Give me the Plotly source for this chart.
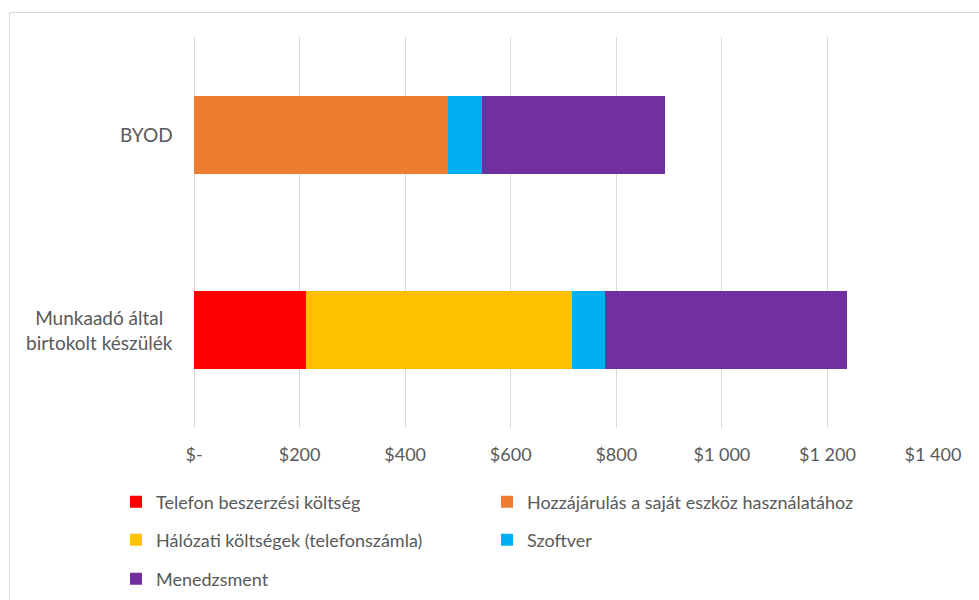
import plotly.graph_objects as go

categories = ["BYOD", "Munkaadó által birtokolt készülék"]
category_labels = ["BYOD", "Munkaadó által<br>birtokolt készülék"]
series_names = [
    "Telefon beszerzési költség",
    "Hozzájárulás a saját eszköz használatához",
    "Hálózati költségek (telefonszámla)",
    "Szoftver",
    "Menedzsment",
]
telefon = [None, 212]
hozzajarulas = [482, None]
halozati = [None, 505]
szoftver = [64, 61]
menedzsment = [347, 459]
series_values = [telefon, hozzajarulas, halozati, szoftver, menedzsment]
colors = ["#FF0000", "#ED7D31", "#FFC000", "#00B0F0", "#7030A0"]

tick_vals = [0, 200, 400, 600, 800, 1000, 1200, 1400]
tick_text = ["$-", "$200", "$400", "$600", "$800", "$1 000", "$1 200", "$1 400"]

FONT = "Lato"
GRAY = "#595959"

W, H = 979, 600
L, R, T, B = 194, 46, 37, 172
pw = W - L - R
ph = H - T - B

def px2x(x):
    return (x - L) / pw

def py2y(y):
    return 1 - (y - T) / ph

fig = go.Figure()
legend_names = ["legend", "legend2", "legend3", "legend4", "legend5"]
for name, vals, col, lg in zip(series_names, series_values, colors, legend_names):
    fig.add_trace(go.Bar(
        y=categories, x=vals, name=name, orientation="h",
        marker=dict(color=col, line=dict(width=0)),
        legend=lg, hoverinfo="x+name", showlegend=True,
    ))

# legend positions (two columns, three rows), in container pixels
leg_pos = [(116, 502), (487, 502), (116, 540), (487, 540), (116, 579)]
layout_legends = {}
for lg, (lx, ly) in zip(legend_names, leg_pos):
    layout_legends[lg] = dict(
        xref="container", yref="container",
        x=lx / W, y=1 - ly / H, xanchor="left", yanchor="middle",
        orientation="h", bgcolor="rgba(0,0,0,0)",
        font=dict(family=FONT, size=18, color=GRAY),
        itemclick=False, itemdoubleclick=False, visible=True,
    )

annotations = []
for cat, lab in zip(categories, category_labels):
    annotations.append(dict(
        x=px2x(175), xref="paper", y=cat, yref="y",
        text=lab, showarrow=False, xanchor="right", yanchor="middle",
        align="center", font=dict(family=FONT, size=19, color=GRAY),
    ))

fig.update_layout(
    width=W, height=H,
    margin=dict(l=L, r=R, t=T, b=B, pad=0),
    barmode="stack", bargap=0.6,
    showlegend=True,
    plot_bgcolor="white", paper_bgcolor="white",
    font=dict(family=FONT, size=18, color=GRAY),
    xaxis=dict(
        range=[0, 1400], tickvals=tick_vals, ticktext=tick_text,
        showgrid=True, gridcolor="#D9D9D9", gridwidth=1,
        zeroline=True, zerolinecolor="#D9D9D9", zerolinewidth=1,
        showline=False, ticks="", ticklabelstandoff=14,
        tickfont=dict(family=FONT, size=18, color=GRAY), fixedrange=True,
        automargin=False,
    ),
    yaxis=dict(
        categoryorder="array", categoryarray=categories, autorange="reversed",
        showticklabels=False, showgrid=False, zeroline=False, showline=False,
        ticks="", fixedrange=True, automargin=False,
    ),
    annotations=annotations,
    shapes=[dict(
        type="rect", xref="paper", yref="paper",
        x0=px2x(9.5), x1=px2x(1000), y0=py2y(620), y1=py2y(12.5),
        line=dict(color="#D9D9D9", width=1), fillcolor="rgba(0,0,0,0)", layer="below",
    )],
    **layout_legends,
)

fig.write_html("out.html")
